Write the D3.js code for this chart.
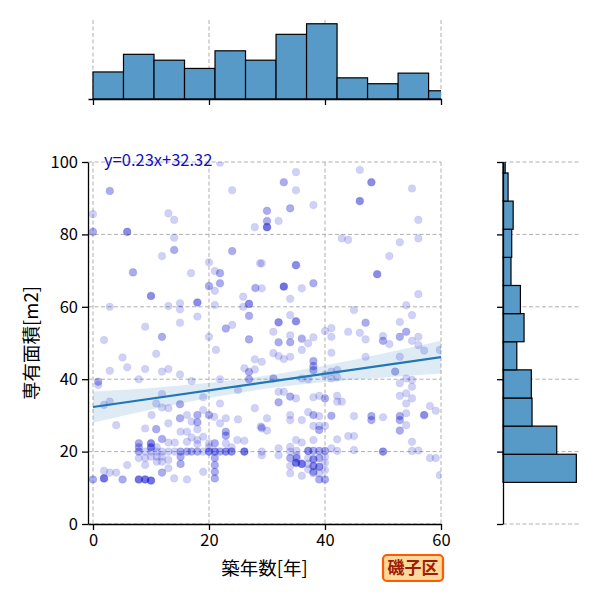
<!DOCTYPE html>
<html>
<head>
<meta charset="utf-8">
<script src="https://cdn.jsdelivr.net/npm/d3@7"></script>
<style>
body { margin: 0; background: #fff; }
svg { font-family: "Noto Sans CJK JP", "Noto Sans", sans-serif; }
</style>
</head>
<body>
<div id="chart"></div>
<script>
// scatter points: [築年数, 専有面積, overlap count]
var scatterPts = [
	[2.9,92.0,2],[0,85.6,1],[0,80.7,2],[5.9,80.7,3],[13,85.8,1],[14,84,1],[24,92.2,1],[27.9,82,1],[14,79.1,1],[14,75.7,2],
	[11.9,74,1],[24,75.4,2],[6.9,69.5,2],[16.9,69.3,1],[20,72.3,1],[21,69.9,1],[21.9,69.3,2],[20,65.7,2],[21.9,66.5,2],[21,64.4,1],
	[10,63,3],[18,61.2,3],[2.9,60,1],[13,60.2,1],[15,61,1],[15,59.3,1],[21,60.5,1],[25.9,62.8,1],[26.9,60.8,3],[25.9,60,1],
	[26.9,57.5,2],[28,65.2,2],[9,54.5,1],[11.9,51.7,2],[15,55.6,1],[18,57.3,1],[22.9,54,2],[24,55,1],[1.9,50.8,1],[20,51.7,1],
	[26.9,51,2],[28.8,72,1],[21.9,99.8,1],
	[35,97.2,1],[32.9,94.4,2],[35,92.2,1],[30,86.5,2],[34,87.2,2],[38,88.1,1],[30,83.7,2],[30,82,4],[32,83.7,1],[46,97.8,1],
	[48,94.4,3],[46,89.2,3],[55,92.7,1],[56.1,84,1],[42.9,78.9,1],[44,78.5,1],[52.9,77.8,1],[56.1,78.9,1],[51.1,74,1],[49,69,3],
	[56.1,63.5,1],[54,60.4,1],[55,57.7,1],[45,59.1,1],[29.1,72,1],[35,71.5,3],[29.1,65.1,1],[32.9,65.6,4],[36,65.1,1],[38,66.5,2],
	[34,62.2,1],[34,57.7,1],[32,55.7,3],[35,56,3],[31.1,53.1,1],[34,52.1,1],[36,51.3,1],[38,51.6,1],[40,53.3,1],[41.1,54.1,1],
	[41.1,51.7,1],[44,53.1,1],[46,52.8,1],[47,55.6,2],[50,51.9,1],[52.9,55.8,1],[54,53.1,2],[52.9,51.7,2],[56.1,51.7,1],
	[5.1,46,1],[10.9,47,1],[21.2,48.1,1],[2.9,42.3,1],[5.9,43.3,1],[9,42.8,1],[11.9,42.1,1],[13,42.8,1],[15,41.3,1],[7.9,40,1],
	[17,39.5,1],[21.9,40,1],[0.9,39.3,2],[27.9,45.5,1],[26.1,43,1],[26.9,42,2],[26.9,40,2],[29.1,44.8,1],[0.9,38.4,1],[27.9,42.7,1],
	[31.1,47.2,1],[32,46.4,1],[32.9,45.6,1],[34,46.2,1],[36,48.1,1],[41.1,47.3,1],[38,45,2],[38,43.6,2],[38,42.5,2],[40,41.2,1],
	[41.1,42.1,1],[42.1,42.5,1],[41.1,40.2,1],[42.1,40.5,1],[36,40.2,1],[37.1,40,1],[31.1,40.2,2],[47,46.2,1],[47,51,1],[50,50.6,2],
	[51.1,49.7,1],[55,50.6,1],[56.1,49.4,1],[57.1,47.9,1],[59.8,48.1,1],[52.9,46.2,1],[52.1,42.1,2],[54,40.2,1],[55,39.8,1],[52.9,38.9,1],
	[55,37.9,1],[32,50.2,2],[34,50.2,2],[36,51.1,1],[37.1,49.9,1],
	[1.9,32.9,1],[2.9,33.8,1],[4,27.3,1],[11.9,35.9,1],[10.9,33.3,1],[11.9,32.2,1],[13,32,1],[15,33.1,2],[19,35,1],[19,31.5,1],
	[20,30.1,2],[18,30.1,2],[18,28.1,2],[21.9,33.3,1],[25,37,1],[27.9,32,1],[10.1,30.1,1],[15,29.2,2],[16.2,30.1,1],[17,28.3,1],
	[13,27.8,1],[9,26.4,1],[10.9,26.2,2],[20.9,29.6,1],[21.9,27.8,1],[22.9,29.2,1],[25,28.9,1],[22.9,25.5,2],[22.9,24.4,2],[29.1,26.4,1],
	[15.1,25.5,1],[16.2,25.5,1],[18,26.2,1],[19,24.1,1],[16.2,22.7,1],[17,23.9,1],[13,22.5,1],[14.1,22.5,1],[11.9,23.5,2],[7.9,22.3,2],
	[7.9,21.2,2],[7.9,20,2],[10,22.3,3],[10,21.2,3],[11,21.2,1],[11,20,1],[11,18.6,1],[11,17.2,1],[11.9,20,1],[11.9,18.6,1],
	[11.9,17.2,1],[10,20,1],[10,18.6,1],[9,20,1],[9,18.2,1],[9,16.3,1],[7.9,18.2,1],[13,20,1],[14.1,20,1],[15.1,20,2],
	[16.2,20,2],[17,20,2],[18,20,2],[19,20,1],[20,20,3],[21,20,3],[21.9,20,2],[22.9,20,3],[23.9,20,3],[26.1,20,4],
	[15.1,18.6,2],[15.1,16.6,2],[13,17.7,1],[13,15.4,1],[11.9,14.2,2],[14,12.6,1],[16.2,12.3,1],[7.9,12.3,4],[9,12.3,4],[10,12,4],
	[5.1,12.3,2],[1.9,12.6,4],[0,12.3,2],[1.9,14.7,1],[2.9,14.2,1],[4,14.2,1],[5.9,16.3,1],[19,14.4,1],[21,16.3,2],[21,14.4,2],
	[21,12.6,2],[21,22.3,2],[21,18.2,2],[20,22.3,1],[20,21.2,1],[22.9,22.3,1],[23.9,21.2,1],[24.9,23.2,1],[26.1,23,1],[28.9,26.9,1],
	[18,23.2,1],[18,22.1,1],
	[32,33.6,2],[34,35.2,2],[32,36.5,1],[32.9,36.5,1],[35,34.7,1],[38,35,1],[39,35.4,1],[40,34.7,2],[42.1,35.4,1],[42.1,33.8,1],
	[42.9,33.8,1],[52.9,35.4,1],[54,36.1,1],[55,34.7,1],[54,33.3,1],[58.1,32.6,1],[59.1,31.3,1],[30,29.2,1],[29.1,26.7,1],[30,25.8,1],
	[34,30.1,1],[34,28.7,1],[36,28.7,1],[37.1,30.9,1],[38,30.1,2],[39,29.8,1],[41.1,29.9,2],[45,29.8,1],[48,29.8,2],[48,28.7,2],
	[50,29.5,1],[52.9,29.8,2],[52.9,28.7,2],[54,30.6,1],[57.1,30.1,3],[38,27.1,1],[39,27.1,1],[40,27.1,1],[39,26,2],[52.9,25.8,2],
	[54,27.3,1],[42.1,23.4,1],[44,24.3,1],[45,24.3,1],[55,22.7,1],[35,23.2,1],[36,22.5,1],[38,23.2,1],[32,20.9,1],[34,21.3,1],
	[34,20,1],[29.1,20,1],[29.1,19,1],[32,19,1],[35.1,20.2,1],[35.1,18.9,1],[37.1,20.2,3],[38,20.2,2],[39,20.2,2],[40,20.2,2],
	[41.1,20.9,1],[42.1,20.2,1],[45,20.4,1],[50,20,3],[55,20.2,1],[56.1,20.3,1],[58.1,18.2,1],[59.1,18.2,1],[59.8,13.5,1],[34,18.2,2],
	[35.1,18.2,2],[35,16.9,4],[36,16.6,4],[37.1,18.2,1],[37.1,16.6,1],[37.1,15.1,1],[38,17.9,3],[38,16,3],[38,14.4,2],[39,18.2,2],
	[39,15.8,3],[40,18.6,1],[40,16.9,1],[40,14.9,1],[34,16,1],[34,14,1],[36,13.3,1],[38,14,1],[39,12.3,2],[40,12.3,2],[39,14,1]
];

// marginal histograms
var topBinEdges = [0, 5.26, 10.52, 15.78, 21.04, 26.3, 31.56, 36.82, 42.08, 47.34, 52.6, 57.86, 63.12];
var topBinCounts = [23, 38, 33, 26, 41, 33, 55, 64, 18, 13, 22, 7];
var rightBinEdges = [11.5, 19.27, 27.04, 34.81, 42.58, 50.35, 58.12, 65.89, 73.66, 81.43, 89.2, 96.97, 104.74];
var rightBinCounts = [101, 74, 40, 39, 19, 29, 24, 11, 12, 14, 7, 3];

// regression fit and confidence band
var fitSlope = 0.23, fitIntercept = 32.32;
var fitRange = [0, 62.9];
var bandX = [0, 10, 20, 30, 40, 50, 60];
var bandLo = [28.0, 31.6, 34.8, 37.4, 39.2, 40.5, 41.6];
var bandHi = [36.6, 37.6, 39.0, 41.0, 43.8, 47.1, 50.6];

var xTicks = [0, 20, 40, 60];
var yTicks = [0, 20, 40, 60, 80, 100];
var fitLabel = "y=0.23x+32.32";
var xLabel = "築年数[年]";
var yLabel = "専有面積[m2]";
var wardLabel = "磯子区";

var width = 600, height = 600;
var main = {left: 88, right: 441, top: 162, bottom: 524};
var histColor = "#5799c7";
var gridColor = "#b0b0b0";

var svg = d3.select("#chart").append("svg")
	.attr("width", width)
	.attr("height", height);

svg.append("defs").append("clipPath")
	.attr("id", "main-clip")
	.append("rect")
	.attr("x", main.left).attr("y", main.top)
	.attr("width", main.right - main.left)
	.attr("height", main.bottom - main.top);

var xScale = d3.scaleLinear().domain([-0.86, 60]).range([main.left, main.right]);
var yScale = d3.scaleLinear().domain([0, 100]).range([main.bottom, main.top]);
var topY = d3.scaleLinear().domain([0, d3.max(topBinCounts) * 1.05]).range([99, 20]);
var rightX = d3.scaleLinear().domain([0, d3.max(rightBinCounts) * 1.05]).range([503, 580]);

function dashed(sel) {
	return sel.attr("stroke", gridColor).attr("stroke-width", 1).attr("stroke-dasharray", "4,2.5");
}

//
// Main joint axes
//
var grid = svg.append("g");
xTicks.forEach(function(t) {
	dashed(grid.append("line")
		.attr("x1", xScale(t)).attr("x2", xScale(t))
		.attr("y1", main.top).attr("y2", main.bottom));
});
yTicks.forEach(function(t) {
	dashed(grid.append("line")
		.attr("x1", main.left).attr("x2", main.right)
		.attr("y1", yScale(t)).attr("y2", yScale(t)));
});

var plot = svg.append("g").attr("clip-path", "url(#main-clip)");

// points, each overlap drawn again so stacks get darker
var flatPts = [];
scatterPts.forEach(function(p) {
	for (var i = 0; i < p[2]; i++) flatPts.push(p);
});
plot.selectAll(".pt")
	.data(flatPts)
	.enter()
	.append("circle")
	.attr("class", "pt")
	.attr("cx", function(d) { return xScale(d[0]); })
	.attr("cy", function(d) { return yScale(d[1]); })
	.attr("r", 3.8)
	.attr("fill", "#0000cd")
	.attr("fill-opacity", 0.18)
	.attr("stroke", "#3050c0")
	.attr("stroke-opacity", 0.07)
	.attr("stroke-width", 1.2);

// confidence band
var bandData = bandX.map(function(x, i) { return {x: x, lo: bandLo[i], hi: bandHi[i]}; });
var band = d3.area()
	.curve(d3.curveMonotoneX)
	.x(function(d) { return xScale(d.x); })
	.y0(function(d) { return yScale(d.lo); })
	.y1(function(d) { return yScale(d.hi); });
plot.append("path")
	.datum(bandData)
	.attr("d", band)
	.attr("fill", "#1f77b4")
	.attr("fill-opacity", 0.15);

// regression line
var fitLine = d3.line()
	.x(function(d) { return xScale(d); })
	.y(function(d) { return yScale(fitSlope * d + fitIntercept); });
plot.append("path")
	.datum(fitRange)
	.attr("d", fitLine)
	.attr("fill", "none")
	.attr("stroke", "#1f77b4")
	.attr("stroke-width", 2.2);

// axes
var xAxis = d3.axisBottom(xScale).tickValues(xTicks).tickSize(6).tickSizeOuter(0).tickPadding(4);
var yAxis = d3.axisLeft(yScale).tickValues(yTicks).tickSize(6).tickSizeOuter(0).tickPadding(4);

svg.append("g")
	.attr("class", "axis")
	.attr("transform", "translate(0," + main.bottom + ")")
	.call(xAxis);
svg.append("g")
	.attr("class", "axis")
	.attr("transform", "translate(" + main.left + ",0)")
	.call(yAxis);

svg.append("text")
	.attr("x", 104)
	.attr("y", 166)
	.attr("fill", "#1010c0")
	.style("font-size", "16.5px")
	.text(fitLabel);

svg.append("text")
	.attr("x", (main.left + main.right) / 2)
	.attr("y", 575)
	.attr("text-anchor", "middle")
	.style("font-size", "18.5px")
	.text(xLabel);

svg.append("text")
	.attr("transform", "translate(38," + ((main.top + main.bottom) / 2) + ") rotate(-90)")
	.attr("text-anchor", "middle")
	.style("font-size", "18.5px")
	.text(yLabel);

//
// Top marginal histogram
//
var topG = svg.append("g");
xTicks.forEach(function(t) {
	dashed(topG.append("line")
		.attr("x1", xScale(t)).attr("x2", xScale(t))
		.attr("y1", 20).attr("y2", 99));
});
var topClip = svg.append("defs").append("clipPath").attr("id", "top-clip");
topClip.append("rect").attr("x", main.left).attr("y", 0).attr("width", main.right - main.left).attr("height", 110);
topG.append("g")
	.attr("clip-path", "url(#top-clip)")
	.selectAll("rect")
	.data(topBinCounts)
	.enter()
	.append("rect")
	.attr("x", function(d, i) { return xScale(topBinEdges[i]); })
	.attr("width", function(d, i) { return xScale(topBinEdges[i + 1]) - xScale(topBinEdges[i]); })
	.attr("y", function(d) { return topY(d); })
	.attr("height", function(d) { return topY(0) - topY(d); })
	.attr("fill", histColor)
	.attr("stroke", "#000")
	.attr("stroke-width", 1.2);
svg.append("g")
	.attr("class", "axis")
	.attr("transform", "translate(0,99)")
	.call(d3.axisBottom(xScale).tickValues(xTicks).tickSize(6).tickSizeOuter(0).tickFormat(""));

//
// Right marginal histogram
//
var rightG = svg.append("g");
yTicks.forEach(function(t) {
	dashed(rightG.append("line")
		.attr("x1", 503).attr("x2", 580)
		.attr("y1", yScale(t)).attr("y2", yScale(t)));
});
var rightClip = svg.append("defs").append("clipPath").attr("id", "right-clip");
rightClip.append("rect").attr("x", 490).attr("y", main.top).attr("width", 110).attr("height", main.bottom - main.top);
rightG.append("g")
	.attr("clip-path", "url(#right-clip)")
	.selectAll("rect")
	.data(rightBinCounts)
	.enter()
	.append("rect")
	.attr("x", rightX(0))
	.attr("width", function(d) { return rightX(d) - rightX(0); })
	.attr("y", function(d, i) { return yScale(rightBinEdges[i + 1]); })
	.attr("height", function(d, i) { return yScale(rightBinEdges[i]) - yScale(rightBinEdges[i + 1]); })
	.attr("fill", histColor)
	.attr("stroke", "#000")
	.attr("stroke-width", 1.2);
svg.append("g")
	.attr("class", "axis")
	.attr("transform", "translate(503,0)")
	.call(d3.axisLeft(yScale).tickValues(yTicks).tickSize(6).tickSizeOuter(0).tickFormat(""));

svg.selectAll(".axis path, .axis line").attr("stroke", "#000").attr("stroke-width", 1.3);
svg.selectAll(".axis text").attr("fill", "#000").style("font-size", "16.5px")
	.style("font-family", "\"Noto Sans CJK JP\", sans-serif");

// ward badge
var badge = svg.append("g").attr("transform", "translate(413,568)");
badge.append("rect")
	.attr("x", -30).attr("y", -13)
	.attr("width", 60).attr("height", 26)
	.attr("rx", 4)
	.attr("fill", "#ffd89c")
	.attr("stroke", "#ff5a00")
	.attr("stroke-width", 2.2);
badge.append("text")
	.attr("text-anchor", "middle")
	.attr("dy", "0.36em")
	.attr("fill", "#9a1e08")
	.style("font-size", "17px")
	.style("font-weight", "bold")
	.text(wardLabel);
</script>
</body>
</html>
